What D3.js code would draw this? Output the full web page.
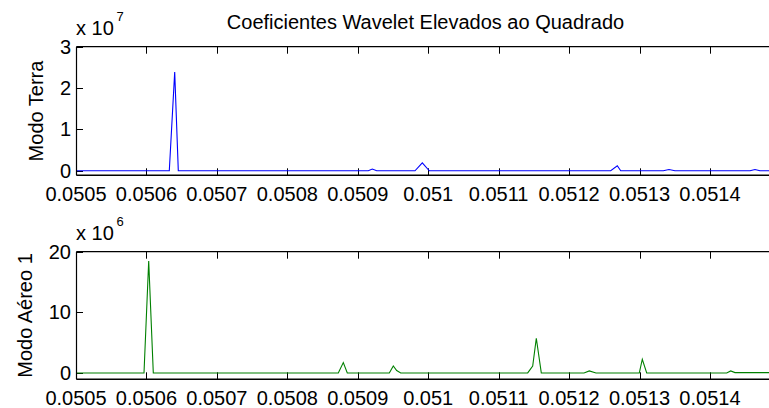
<!DOCTYPE html>
<html><head><meta charset="utf-8">
<script src="https://cdn.jsdelivr.net/npm/d3@7"></script>
<style>body{margin:0;background:#fff}svg{display:block}text{font-family:"Liberation Sans",Arial,sans-serif;fill:#000}</style>
</head><body>
<script>
const title = "Coeficientes Wavelet Elevados ao Quadrado";
const xTicks = [0.0505,0.0506,0.0507,0.0508,0.0509,0.0510,0.0511,0.0512,0.0513,0.0514];
const xTickLabels = ["0.0505","0.0506","0.0507","0.0508","0.0509","0.051","0.0511","0.0512","0.0513","0.0514"];
// Modo Terra (units of 1e7)
const terraT = [0.0505,0.05063245,0.05064012,0.05064523,0.05091496,0.05092064,0.05092689,0.05098126,0.05099162,0.05100156,0.0512591,0.05126846,0.0512733,0.05133376,0.05134185,0.05135037,0.05145684,0.05146394,0.05147104,0.0515];
const terraV = [0,0,2.39,0,0,0.04,0,0,0.19,0,0,0.12,0,0,0.03,0,0,0.03,0,0];
// Modo Aereo 1 (units of 1e6)
const aereoT = [0.0505,0.05059654,0.05060321,0.05060974,0.05087237,0.05087947,0.05088515,0.05094478,0.05095045,0.05095528,0.05096096,0.05114126,0.05114836,0.05115347,0.05116056,0.05122118,0.0512287,0.0512382,0.05129969,0.05130395,0.0513102,0.05142377,0.05142944,0.05143555,0.0515];
const aereoV = [0,0,18.47,0,0,1.7,0,0,1.15,0.4,0,0,1.15,5.72,0,0,0.33,0,0,2.26,0,0,0.33,0.05,0.05];
const terraYTicks = [0,1,2,3];
const aereoYTicks = [0,10,20];

const W=769,H=408;
const svg=d3.select("body").append("svg").attr("width",W).attr("height",H);
const x=d3.scaleLinear().domain([0.0505,0.0515]).range([76,780.4]);

function panel(top,bottom,yDomain,yTicks,T,V,color,ylabel,ylabelX,expo){
  const y=d3.scaleLinear().domain(yDomain).range([bottom,top]);
  const g=svg.append("g");
  const tl=7;
  // x ticks top & bottom
  xTicks.forEach((t,i)=>{
    const px=Math.round(x(t))+0.5;
    g.append("line").attr("x1",px).attr("x2",px).attr("y1",top).attr("y2",top+tl).attr("stroke","#000");
    g.append("line").attr("x1",px).attr("x2",px).attr("y1",bottom).attr("y2",bottom-tl).attr("stroke","#000");
    g.append("text").attr("x",x(t)).attr("y",bottom+25.5).attr("text-anchor","middle").attr("font-size",20).text(xTickLabels[i]);
  });
  yTicks.forEach(v=>{
    const py=Math.round(y(v))+0.5;
    g.append("line").attr("x1",76).attr("x2",76+tl).attr("y1",py).attr("y2",py).attr("stroke","#000");
    g.append("text").attr("x",71).attr("y",y(v)+7).attr("text-anchor","end").attr("font-size",20).text(String(v));
  });
  const line=d3.line().x((d,i)=>x(T[i])).y((d,i)=>y(V[i]));
  g.append("path").datum(V).attr("d",line).attr("fill","none").attr("stroke",color).attr("stroke-width",1.1);
  // axes box
  g.append("line").attr("x1",76.5).attr("x2",W).attr("y1",top).attr("y2",top).attr("stroke","#000").attr("stroke-width",1.2);
  g.append("line").attr("x1",76.5).attr("x2",W).attr("y1",bottom).attr("y2",bottom).attr("stroke","#000").attr("stroke-width",1.6);
  g.append("line").attr("x1",76.5).attr("x2",76.5).attr("y1",top).attr("y2",bottom).attr("stroke","#000").attr("stroke-width",1.2);
  // y label
  g.append("text").attr("transform",`translate(${ylabelX},${(top+bottom)/2}) rotate(-90)`).attr("text-anchor","middle").attr("font-size",20).text(ylabel);
  // exponent
  const t=g.append("text").attr("x",76).attr("y",top-12).attr("font-size",20);
  t.append("tspan").text("x 10");
  g.append("text").attr("x",116.5).attr("y",top-26).attr("font-size",13).text(expo);
}
panel(46.7,175.3,[-0.11,3],terraYTicks,terraT,terraV,"#0000ff","Modo Terra",42.5,"7");
panel(251.7,379.3,[-1.05,20],aereoYTicks,aereoT,aereoV,"#008000","Modo Aéreo 1",31.7,"6");
svg.append("text").attr("x",425.5).attr("y",29).attr("text-anchor","middle").attr("font-size",20).text(title);
</script>
</body></html>
